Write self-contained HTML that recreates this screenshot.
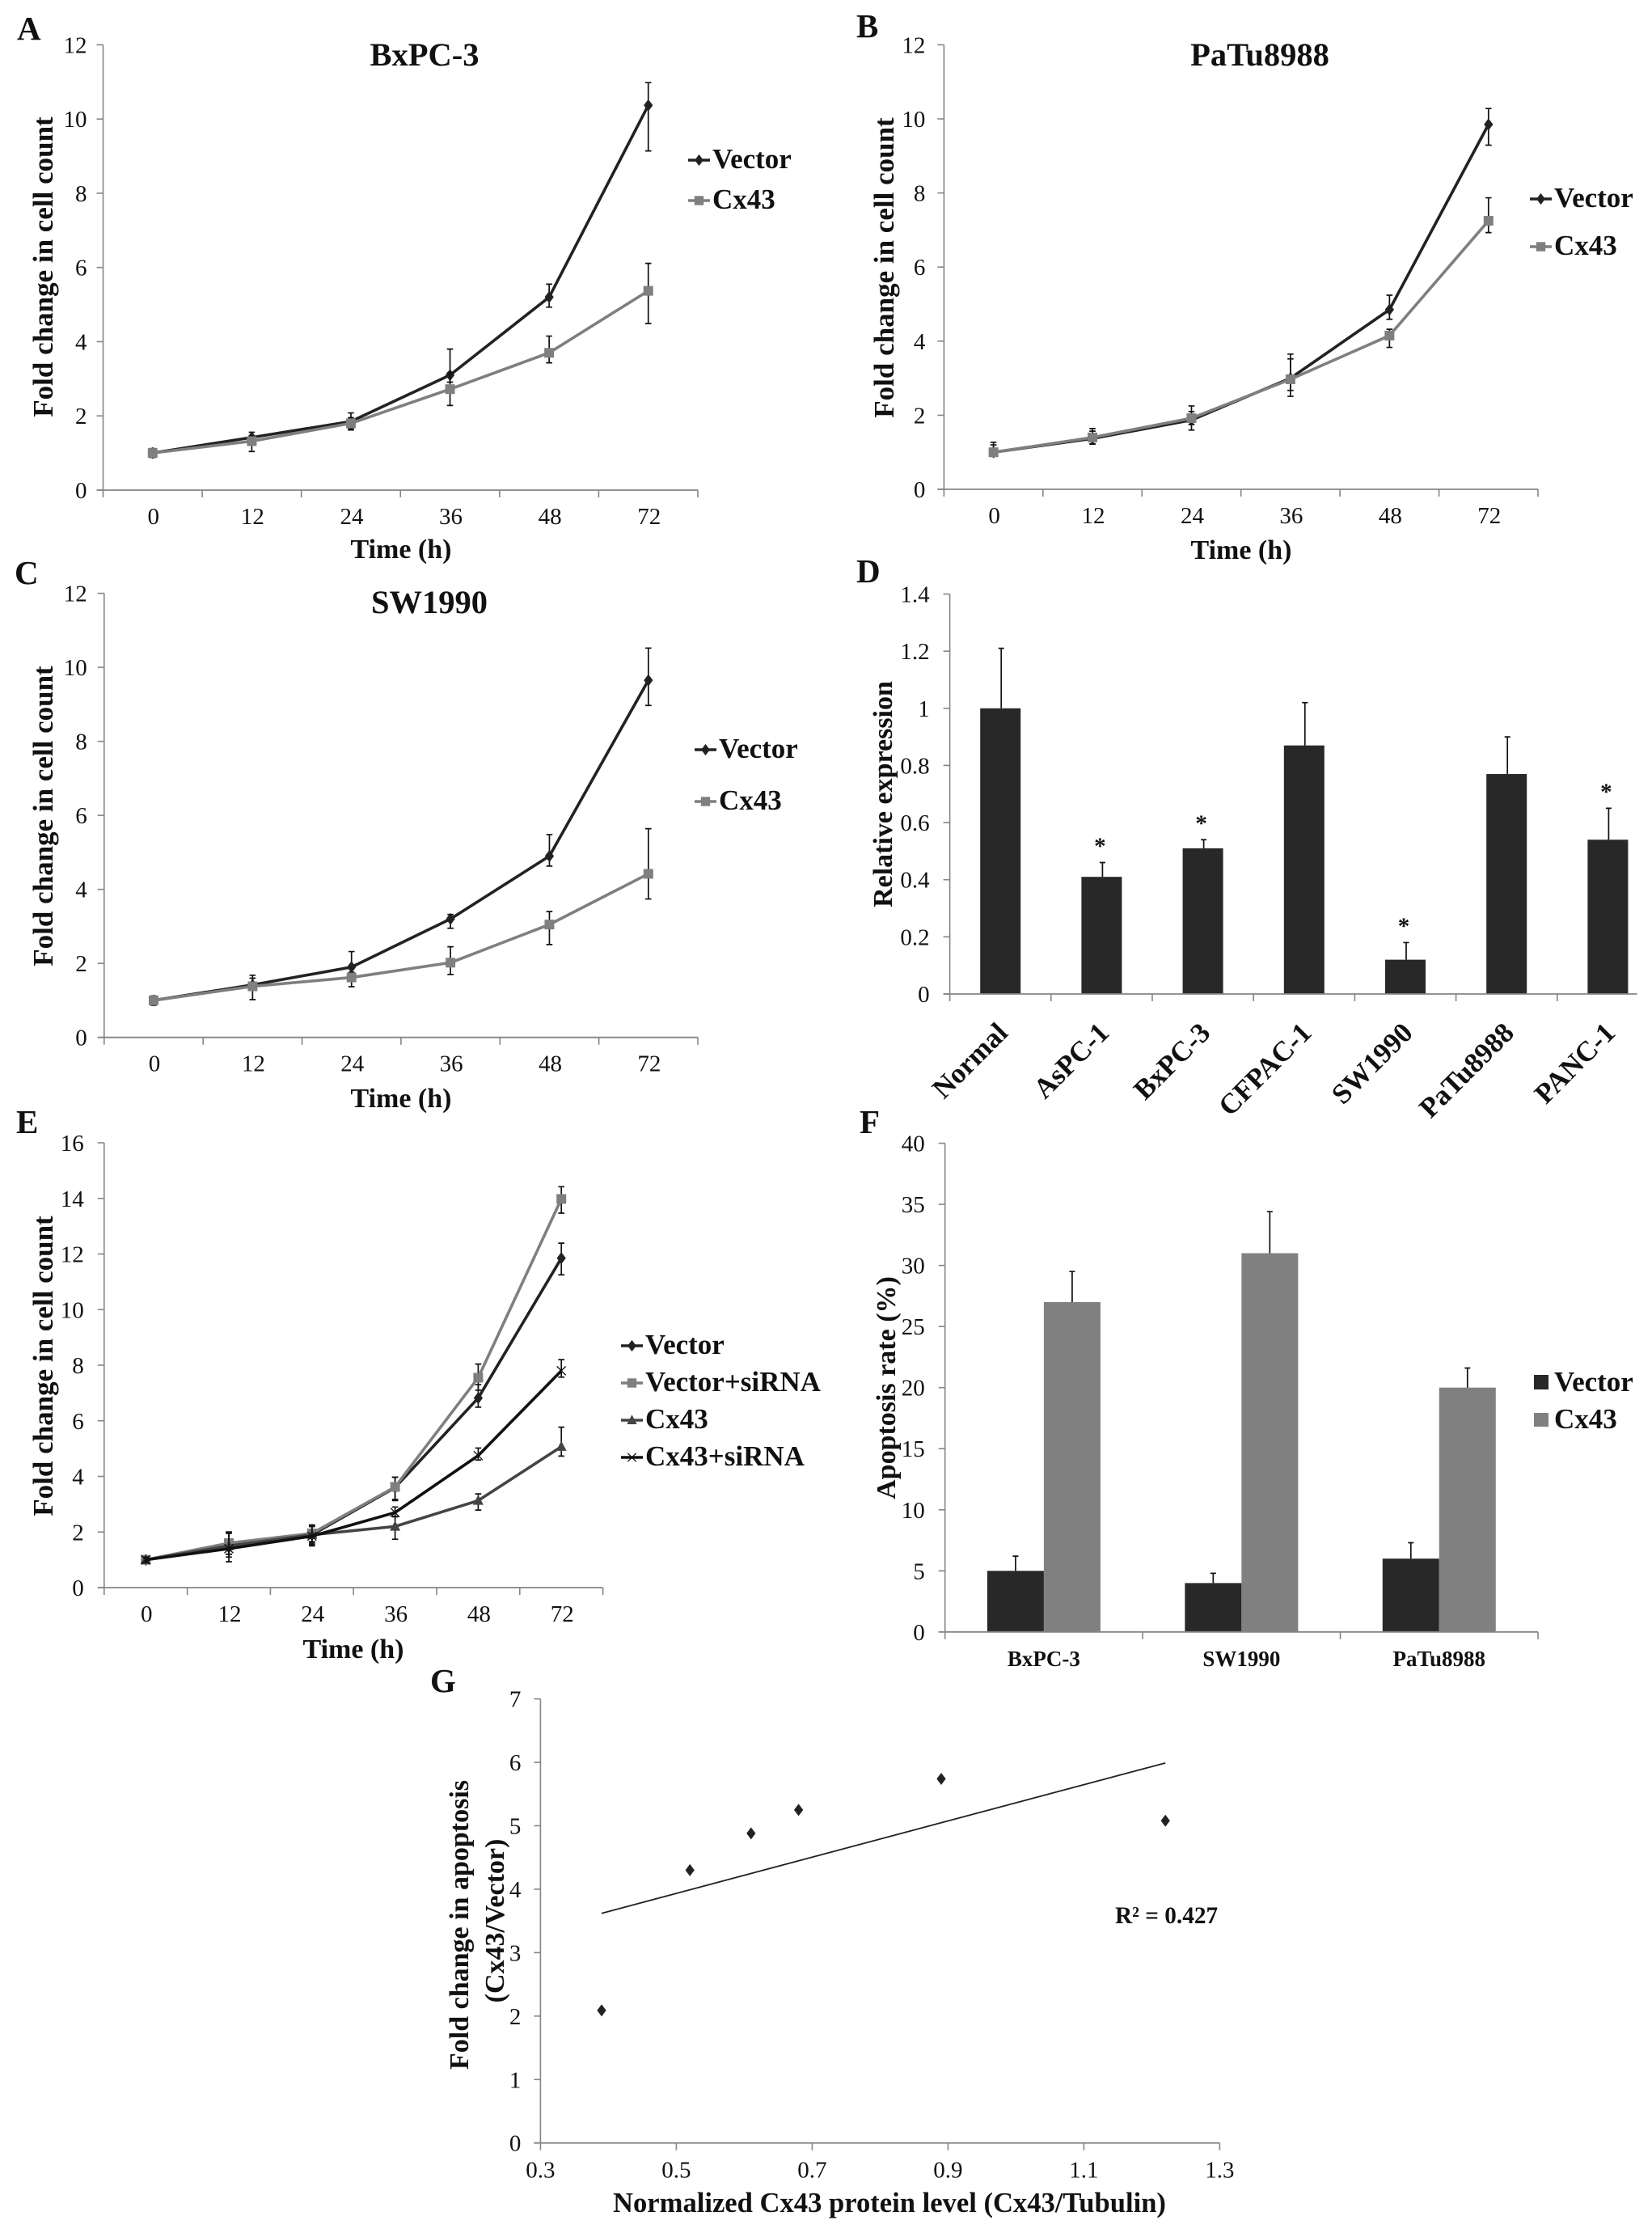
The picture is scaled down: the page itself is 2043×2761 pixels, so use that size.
<!DOCTYPE html>
<html lang="en">
<head>
<meta charset="utf-8">
<title>Cx43 figure panels A-G</title>
<style>
html,body{margin:0;padding:0;background:#fff;}
svg{display:block;}
text{font-family:"Liberation Serif","Times New Roman",serif;fill:#111;}
.b{font-weight:bold;}
.letter{font-weight:bold;font-size:41px;}
.title{font-weight:bold;font-size:40.5px;text-anchor:middle;}
.axt{font-weight:bold;font-size:34px;text-anchor:middle;}
.foldt{font-weight:bold;font-size:35px;text-anchor:middle;}
</style>
</head>
<body>
<svg id="figure" xmlns="http://www.w3.org/2000/svg" width="2043" height="2761" viewBox="0 0 2043 2761">
<rect x="0" y="0" width="2043" height="2761" fill="#fff"/>

<g id="panel-a">
<text class="letter" x="21" y="49">A</text>
<text class="title" x="525" y="81">BxPC-3</text>
<text class="axt" x="496" y="690">Time (h)</text>
<text class="foldt" x="65" y="330" transform="rotate(-90 65 330)">Fold change in cell count</text>
</g>

<g id="panel-b">
<text class="letter" x="1059" y="46">B</text>
<text class="title" x="1558" y="81">PaTu8988</text>
<text class="axt" x="1535" y="691">Time (h)</text>
<text class="foldt" x="1105" y="331" transform="rotate(-90 1105 331)">Fold change in cell count</text>
</g>

<g id="panel-c">
<text class="letter" x="18" y="722">C</text>
<text class="title" x="531" y="758">SW1990</text>
<text class="axt" x="496" y="1369">Time (h)</text>
<text class="foldt" x="65" y="1009" transform="rotate(-90 65 1009)">Fold change in cell count</text>
</g>

<g id="panel-d">
<text class="letter" x="1059" y="720">D</text>
<text class="axt" x="1103" y="982" transform="rotate(-90 1103 982)">Relative expression</text>
</g>

<g id="panel-e">
<text class="letter" x="20" y="1401">E</text>
<text class="axt" x="437" y="2050">Time (h)</text>
<text class="foldt" x="65" y="1689" transform="rotate(-90 65 1689)">Fold change in cell count</text>
</g>

<g id="panel-f">
<text class="letter" x="1063" y="1401">F</text>
<text class="axt" x="1107" y="1716" transform="rotate(-90 1107 1716)">Apoptosis rate (%)</text>
</g>

<g id="panel-g">
<text class="letter" x="532" y="2092">G</text>
<text class="axt" x="579" y="2380" transform="rotate(-90 579 2380)">Fold change in apoptosis</text>
<text class="axt" x="623" y="2375" transform="rotate(-90 623 2375)">(Cx43/Vector)</text>
<text class="axt" x="1100" y="2735" style="font-size:34.6px">Normalized Cx43 protein level (Cx43/Tubulin)</text>
<text class="b" x="1379" y="2378" font-size="29.3">R² = 0.427</text>
</g>
</svg>

<script>
// ---------- shared axis values ----------
const timeLabels = ["0", "12", "24", "36", "48", "72"];
const foldTicks12 = [0, 2, 4, 6, 8, 10, 12];
const foldTicks16 = [0, 2, 4, 6, 8, 10, 12, 14, 16];

// ---------- panel A ----------
const aVector   = [1.0, 1.42, 1.85, 3.1, 5.2, 10.37];
const aVectorHi = [1.12, 1.56, 2.08, 3.8, 5.55, 10.98];
const aVectorLo = [0.88, 1.28, 1.62, 2.91, 4.93, 9.14];
const aCx43     = [1.0, 1.32, 1.8, 2.72, 3.7, 5.37];
const aCx43Hi   = [1.1, 1.45, 1.95, 3.16, 4.15, 6.11];
const aCx43Lo   = [0.9, 1.04, 1.65, 2.28, 3.43, 4.49];

// ---------- panel B ----------
const bVector   = [1.0, 1.37, 1.87, 3.0, 4.85, 9.85];
const bVectorHi = [1.27, 1.57, 2.25, 3.65, 5.24, 10.28];
const bVectorLo = [0.89, 1.23, 1.6, 2.67, 4.59, 9.29];
const bCx43     = [1.0, 1.4, 1.92, 2.97, 4.15, 7.25];
const bCx43Hi   = [1.2, 1.64, 2.1, 3.52, 4.32, 7.87];
const bCx43Lo   = [0.9, 1.22, 1.75, 2.51, 3.83, 6.93];

// ---------- panel C ----------
const cVector   = [1.0, 1.42, 1.9, 3.2, 4.9, 9.65];
const cVectorHi = [1.12, 1.68, 2.32, 3.32, 5.48, 10.52];
const cVectorLo = [0.87, 1.32, 1.76, 2.95, 4.63, 8.97];
const cCx43     = [1.0, 1.38, 1.62, 2.02, 3.05, 4.42];
const cCx43Hi   = [1.1, 1.6, 1.76, 2.45, 3.4, 5.64];
const cCx43Lo   = [0.9, 1.02, 1.37, 1.7, 2.51, 3.74];

// ---------- panel D ----------
const dCategories = ["Normal", "AsPC-1", "BxPC-3", "CFPAC-1", "SW1990", "PaTu8988", "PANC-1"];
const dValues  = [1.0, 0.41, 0.51, 0.87, 0.12, 0.77, 0.54];
const dErrTops = [1.21, 0.46, 0.54, 1.02, 0.18, 0.9, 0.65];
const dStars   = ["", "*", "*", "", "*", "", "*"];
const dTicks   = [0, 0.2, 0.4, 0.6, 0.8, 1, 1.2, 1.4];

// ---------- panel E ----------
const eVector       = [1.0, 1.45, 1.9, 3.6, 6.82, 11.85];
const eVectorHi     = [1.1, 1.75, 2.2, 3.97, 7.3, 12.39];
const eVectorLo     = [0.9, 1.2, 1.6, 3.13, 6.49, 11.25];
const eVectorSi     = [1.0, 1.6, 1.95, 3.62, 7.55, 13.98];
const eVectorSiHi   = [1.1, 2.0, 2.25, 3.97, 8.04, 14.42];
const eVectorSiLo   = [0.9, 1.2, 1.65, 3.17, 7.1, 13.47];
const eCx43         = [1.0, 1.5, 1.9, 2.2, 3.13, 5.07];
const eCx43Hi       = [1.1, 2.0, 2.2, 2.55, 3.37, 5.77];
const eCx43Lo       = [0.9, 1.1, 1.55, 1.74, 2.79, 4.73];
const eCx43Si       = [1.0, 1.4, 1.85, 2.7, 4.75, 7.8];
const eCx43SiHi     = [1.1, 1.95, 2.25, 2.9, 5.02, 8.2];
const eCx43SiLo     = [0.9, 0.93, 1.5, 2.56, 4.59, 7.57];

// ---------- panel F ----------
const fCategories = ["BxPC-3", "SW1990", "PaTu8988"];
const fVector   = [5, 4, 6];
const fVectorHi = [6.2, 4.8, 7.3];
const fCx43     = [27, 31, 20];
const fCx43Hi   = [29.5, 34.4, 21.6];
const fTicks    = [0, 5, 10, 15, 20, 25, 30, 35, 40];

// ---------- panel G ----------
const gX = [0.39, 0.52, 0.61, 0.68, 0.89, 1.22];
const gY = [2.09, 4.3, 4.88, 5.25, 5.74, 5.08];
const gTrendX = [0.39, 1.22];
const gTrendY = [3.62, 5.99];
const gXTicks = ["0.3", "0.5", "0.7", "0.9", "1.1", "1.3"];
const gYTicks = [0, 1, 2, 3, 4, 5, 6, 7];

// ---------- helpers ----------
const SVGNS = "http://www.w3.org/2000/svg";
const AXIS = "#858585";

function make(tag, attrs, parent) {
  const n = document.createElementNS(SVGNS, tag);
  for (const k in attrs) n.setAttribute(k, attrs[k]);
  parent.appendChild(n);
  return n;
}

function linear(d0, d1, r0, r1) {
  return function (v) { return r0 + (v - d0) * (r1 - r0) / (d1 - d0); };
}

function drawYAxis(g, left, yScale, ticks, gap, tag) {
  const top = yScale(ticks[ticks.length - 1]);
  const bottom = yScale(ticks[0]);
  const axis = make("line", {x1: left, x2: left, y1: top, y2: bottom, stroke: AXIS, "stroke-width": 1.6}, g);
  
  
  ticks.forEach(function (t) {
    const y = yScale(t);
    const mark = make("line", {x1: left - 8, x2: left, y1: y, y2: y, stroke: AXIS, "stroke-width": 1.6}, g);
    
    
    const lab = make("text", {x: left - gap, y: y + 10, "font-size": 29, "text-anchor": "end"}, g);
    lab.textContent = String(t);
    
    
  });
}

function drawXBase(g, left, lineEnd, tickXs, y, tag) {
  const axis = make("line", {x1: left - 8, x2: lineEnd, y1: y, y2: y, stroke: AXIS, "stroke-width": 1.8}, g);
  
  
  tickXs.forEach(function (x) {
    if (x > lineEnd + 0.5) return;
    const mark = make("line", {x1: x, x2: x, y1: y, y2: y + 9, stroke: AXIS, "stroke-width": 1.6}, g);
    
    
  });
}

function drawMarker(g, kind, x, y, color, size) {
  const s = size;
  let m;
  if (kind === "diamond") {
    m = make("polygon", {points: [x, y - s, x + s * 0.75, y, x, y + s, x - s * 0.75, y].join(" "), fill: color}, g);
  } else if (kind === "square") {
    m = make("rect", {x: x - s, y: y - s, width: 2 * s, height: 2 * s, fill: color}, g);
  } else if (kind === "triangle") {
    m = make("polygon", {points: [x, y - s * 1.1, x + s, y + s * 0.8, x - s, y + s * 0.8].join(" "), fill: color}, g);
  } else {
    m = make("path", {d: "M" + (x - s) + " " + (y - s) + "L" + (x + s) + " " + (y + s) + "M" + (x - s) + " " + (y + s) + "L" + (x + s) + " " + (y - s), stroke: color, "stroke-width": 1.3, fill: "none"}, g);
  }
  return m;
}

function drawErrorBar(g, x, yHi, yLo, capHalf) {
  const p = make("path", {
    d: "M" + (x - capHalf) + " " + yHi + "H" + (x + capHalf) + "M" + x + " " + yHi + "V" + yLo + "M" + (x - capHalf) + " " + yLo + "H" + (x + capHalf),
    stroke: "#111", "stroke-width": 1.7, fill: "none"
  }, g);
  return p;
}

function lineChart(c) {
  const g = document.getElementById(c.group);
  const yScale = linear(0, c.yTicks[c.yTicks.length - 1], c.bottom, c.top);
  const step = (c.right - c.left) / c.categories.length;
  const xPos = function (i) { return c.left + (i + 0.5) * step; };
  const tickXs = c.categories.map(function (_, i) { return c.left + i * step; }).concat([c.right]);
  drawYAxis(g, c.left, yScale, c.yTicks, c.gap, c.tag);
  drawXBase(g, c.left, c.right, tickXs, c.bottom, c.tag);
  c.categories.forEach(function (cat, i) {
    const lab = make("text", {x: xPos(i) + 1, y: c.bottom + 42, "font-size": 29, "text-anchor": "middle"}, g);
    lab.textContent = cat;
    
    
  });
  c.series.forEach(function (s) {
    s.values.forEach(function (v, i) {
      const eb = drawErrorBar(g, xPos(i), yScale(s.hi[i]), yScale(s.lo[i]), 3.8);
      
      
    });
    const pts = s.values.map(function (v, i) { return xPos(i) + "," + yScale(v); }).join(" ");
    const line = make("polyline", {points: pts, fill: "none", stroke: s.color, "stroke-width": 3.6, "stroke-linejoin": "round"}, g);
    
    
    s.values.forEach(function (v, i) {
      const m = drawMarker(g, s.marker, xPos(i), yScale(v), s.color, s.size);
      
      
    });
  });
  c.series.forEach(function (s, i) {
    const ly = c.legend.ys[i];
    const ll = make("line", {x1: c.legend.x, x2: c.legend.x + 27, y1: ly, y2: ly, stroke: s.color, "stroke-width": 3.6}, g);
    
    
    const lm = drawMarker(g, s.marker, c.legend.x + 13.5, ly, s.color, s.size * 0.95);
    
    
    const lt = make("text", {x: c.legend.x + 30, y: ly + 10, "font-size": 35, "font-weight": "bold"}, g);
    lt.textContent = s.name;
    
    
  });
}

// ---------- line panels ----------
lineChart({
  group: "panel-a", tag: "a", left: 127.5, right: 863, top: 55.4, bottom: 606, gap: 20,
  yTicks: foldTicks12, categories: timeLabels,
  series: [
    {key: "vector", name: "Vector", values: aVector, hi: aVectorHi, lo: aVectorLo, color: "#222", marker: "diamond", size: 7.5},
    {key: "cx43", name: "Cx43", values: aCx43, hi: aCx43Hi, lo: aCx43Lo, color: "#7f7f7f", marker: "square", size: 6}
  ],
  legend: {x: 851, ys: [198, 248]}
});
lineChart({
  group: "panel-b", tag: "b", left: 1167.4, right: 1902, top: 55.4, bottom: 605, gap: 23,
  yTicks: foldTicks12, categories: timeLabels,
  series: [
    {key: "vector", name: "Vector", values: bVector, hi: bVectorHi, lo: bVectorLo, color: "#222", marker: "diamond", size: 7.5},
    {key: "cx43", name: "Cx43", values: bCx43, hi: bCx43Hi, lo: bCx43Lo, color: "#7f7f7f", marker: "square", size: 6}
  ],
  legend: {x: 1892, ys: [246, 305]}
});
lineChart({
  group: "panel-c", tag: "c", left: 128.8, right: 863, top: 733.6, bottom: 1282.7, gap: 21,
  yTicks: foldTicks12, categories: timeLabels,
  series: [
    {key: "vector", name: "Vector", values: cVector, hi: cVectorHi, lo: cVectorLo, color: "#222", marker: "diamond", size: 7.5},
    {key: "cx43", name: "Cx43", values: cCx43, hi: cCx43Hi, lo: cCx43Lo, color: "#7f7f7f", marker: "square", size: 6}
  ],
  legend: {x: 859, ys: [927, 991]}
});
lineChart({
  group: "panel-e", tag: "e", left: 128.8, right: 745.6, top: 1413, bottom: 1963, gap: 25,
  yTicks: foldTicks16, categories: timeLabels,
  series: [
    {key: "vector", name: "Vector", values: eVector, hi: eVectorHi, lo: eVectorLo, color: "#222", marker: "diamond", size: 7.5},
    {key: "vector-sirna", name: "Vector+siRNA", values: eVectorSi, hi: eVectorSiHi, lo: eVectorSiLo, color: "#7f7f7f", marker: "square", size: 6},
    {key: "cx43", name: "Cx43", values: eCx43, hi: eCx43Hi, lo: eCx43Lo, color: "#444", marker: "triangle", size: 6.5},
    {key: "cx43-sirna", name: "Cx43+siRNA", values: eCx43Si, hi: eCx43SiHi, lo: eCx43SiLo, color: "#111", marker: "cross", size: 5.5}
  ],
  legend: {x: 768, ys: [1664, 1710, 1756, 1802]}
});

// ---------- panel D ----------
(function () {
  const g = document.getElementById("panel-d");
  const left = 1174.6, step = 125.2, bottom = 1229, top = 734.5, lineEnd = 2024.6, barW = 50;
  const yScale = linear(0, dTicks[dTicks.length - 1], bottom, top);
  const xPos = function (i) { return left + (i + 0.5) * step; };
  drawYAxis(g, left, yScale, dTicks, 25, "d");
  const tickXs = dCategories.map(function (_, i) { return left + i * step; });
  dValues.forEach(function (v, i) {
    const bar = make("rect", {x: xPos(i) - barW / 2, y: yScale(v), width: barW, height: bottom - yScale(v), fill: "#282828"}, g);
    
    
    const stem = make("path", {d: "M" + (xPos(i) + 1) + " " + yScale(v) + "V" + yScale(dErrTops[i]) + "m-3.5 0h7", stroke: "#111", "stroke-width": 1.7, fill: "none"}, g);
    
    
    if (dStars[i]) {
      const st = make("text", {x: xPos(i) - 2, y: yScale(dErrTops[i]) - 11, "font-size": 29, "font-weight": "bold", "text-anchor": "middle"}, g);
      st.textContent = dStars[i];
      
      
    }
  });
  drawXBase(g, left, lineEnd, tickXs, bottom, "d");
  dCategories.forEach(function (cat, i) {
    const lx = xPos(i) + 11, ly = bottom + 50;
    const lab = make("text", {x: lx, y: ly, "font-size": 35, "font-weight": "bold", "text-anchor": "end", transform: "rotate(-45 " + lx + " " + ly + ")"}, g);
    lab.textContent = cat;
    
    
  });
})();

// ---------- panel F ----------
(function () {
  const g = document.getElementById("panel-f");
  const left = 1168.7, right = 1902, bottom = 2017.8, top = 1413.6, barW = 70;
  const step = (right - left) / fCategories.length;
  const yScale = linear(0, fTicks[fTicks.length - 1], bottom, top);
  const xPos = function (i) { return left + (i + 0.5) * step; };
  drawYAxis(g, left, yScale, fTicks, 25, "f");
  const tickXs = fCategories.map(function (_, i) { return left + i * step; }).concat([right]);
  fCategories.forEach(function (cat, i) {
    const x = xPos(i);
    const b1 = make("rect", {x: x - barW, y: yScale(fVector[i]), width: barW, height: bottom - yScale(fVector[i]), fill: "#282828"}, g);
    
    
    const b2 = make("rect", {x: x, y: yScale(fCx43[i]), width: barW, height: bottom - yScale(fCx43[i]), fill: "#808080"}, g);
    
    
    const e1 = make("path", {d: "M" + (x - barW / 2) + " " + yScale(fVector[i]) + "V" + yScale(fVectorHi[i]) + "m-3.5 0h7", stroke: "#111", "stroke-width": 1.7, fill: "none"}, g);
    
    
    const e2 = make("path", {d: "M" + (x + barW / 2) + " " + yScale(fCx43[i]) + "V" + yScale(fCx43Hi[i]) + "m-3.5 0h7", stroke: "#111", "stroke-width": 1.7, fill: "none"}, g);
    
    
    const lab = make("text", {x: x, y: 2060, "font-size": 27, "font-weight": "bold", "text-anchor": "middle"}, g);
    lab.textContent = cat;
    
    
  });
  drawXBase(g, left, right, tickXs, bottom, "f");
  const sw1 = make("rect", {x: 1897, y: 1700, width: 18, height: 18, fill: "#282828"}, g);
  
  
  const t1 = make("text", {x: 1922, y: 1720, "font-size": 35, "font-weight": "bold"}, g);
  t1.textContent = "Vector";
  
  
  const sw2 = make("rect", {x: 1897, y: 1747, width: 18, height: 17, fill: "#808080"}, g);
  
  
  const t2 = make("text", {x: 1922, y: 1766, "font-size": 35, "font-weight": "bold"}, g);
  t2.textContent = "Cx43";
  
  
})();

// ---------- panel G ----------
(function () {
  const g = document.getElementById("panel-g");
  const left = 668.4, right = 1508.4, bottom = 2649.7, top = 2100.6;
  const xScale = linear(Number(gXTicks[0]), Number(gXTicks[gXTicks.length - 1]), left, right);
  const yScale = linear(0, gYTicks[gYTicks.length - 1], bottom, top);
  drawYAxis(g, left, yScale, gYTicks, 24, "g");
  drawXBase(g, left, right, gXTicks.map(function (t) { return xScale(Number(t)); }), bottom, "g");
  gXTicks.forEach(function (t) {
    const lab = make("text", {x: xScale(Number(t)), y: bottom + 43, "font-size": 29, "text-anchor": "middle"}, g);
    lab.textContent = t;
    
    
  });
  const trend = make("line", {x1: xScale(gTrendX[0]), y1: yScale(gTrendY[0]), x2: xScale(gTrendX[1]), y2: yScale(gTrendY[1]), stroke: "#222", "stroke-width": 1.8}, g);
  
  
  gX.forEach(function (v, i) {
    const p = drawMarker(g, "diamond", xScale(v), yScale(gY[i]), "#222", 7.5);
    
    
  });
})();
</script>
</body>
</html>
